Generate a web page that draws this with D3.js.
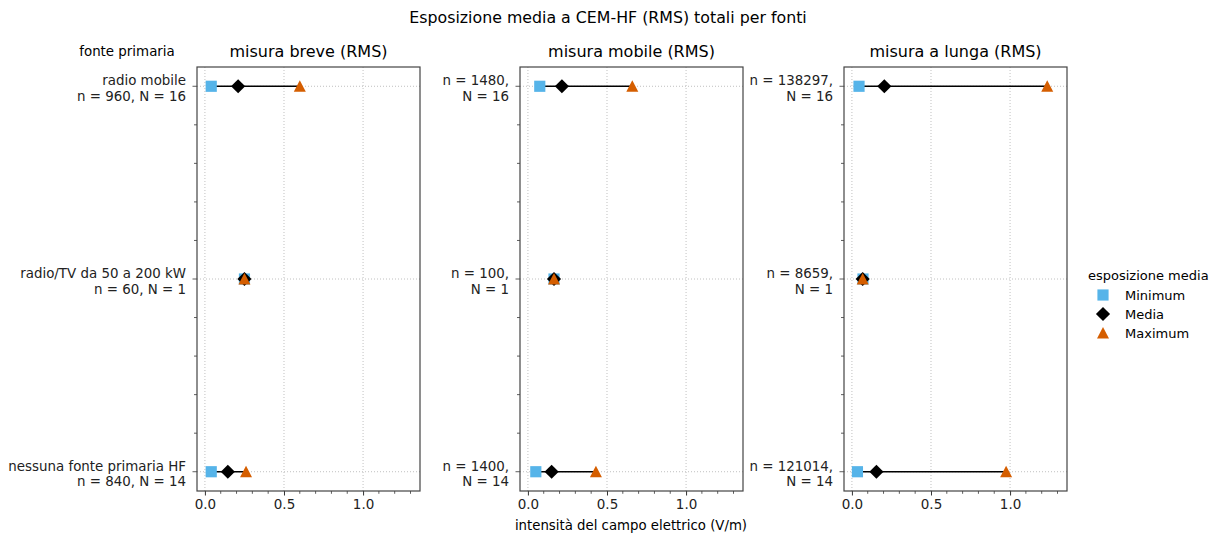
<!DOCTYPE html>
<html>
<head>
<meta charset="utf-8">
<script src="https://cdn.jsdelivr.net/npm/d3@7"></script>
<style>
  body { margin: 0; background: #fff; }
  svg { font-family: "DejaVu Sans", sans-serif; }
</style>
</head>
<body>
<svg id="chart"></svg>
<script>
// data
var panels = ["misura breve (RMS)", "misura mobile (RMS)", "misura a lunga (RMS)"];
var sources = ["radio mobile", "radio/TV da 50 a 200 kW", "nessuna fonte primaria HF"];
var countLabels = [
    ["n = 960, N = 16", "n = 60, N = 1", "n = 840, N = 14"],
    ["n = 1480,|N = 16", "n = 100,|N = 1", "n = 1400,|N = 14"],
    ["n = 138297,|N = 16", "n = 8659,|N = 1", "n = 121014,|N = 14"]
];
var minimum = [
    [0.04, 0.25, 0.04],
    [0.075, 0.165, 0.05],
    [0.045, 0.07, 0.035]
];
var media = [
    [0.21, 0.25, 0.145],
    [0.215, 0.165, 0.15],
    [0.205, 0.068, 0.155]
];
var maximum = [
    [0.60, 0.25, 0.26],
    [0.66, 0.165, 0.43],
    [1.235, 0.068, 0.975]
];
var xTicks = [0, 0.5, 1.0];
var legendLabels = ["Minimum", "Media", "Maximum"];
var colors = { min: "#56B4E9", mean: "#000000", max: "#D55E00" };

var WIDTH = 1217, HEIGHT = 535;
var svg = d3.select("#chart").attr("width", WIDTH).attr("height", HEIGHT);

var panelLeft = [197, 520, 844];
var panelW = 223, plotTop = 67, plotBottom = 491;

var y = d3.scaleLinear().domain([-0.1, 2.1]).range([plotTop, plotBottom]);

svg.append("text")
    .attr("x", 608).attr("y", 23)
    .attr("text-anchor", "middle")
    .attr("font-size", 15.8)
    .text("Esposizione media a CEM-HF (RMS) totali per fonti");

svg.append("text")
    .attr("x", 127).attr("y", 56)
    .attr("text-anchor", "middle")
    .attr("font-size", 13.4)
    .text("fonte primaria");

var sq = d3.symbol().type(d3.symbolSquare).size(125);
var dia = d3.symbol().type(d3.symbolSquare).size(100);
// matplotlib-like triangle: as wide as it is tall, centred on its box
var tri = "M0,-6L6,5.5L-6,5.5Z";

panels.forEach(function (title, p) {
    var x = d3.scaleLinear().domain([-0.05, 1.36]).range([panelLeft[p], panelLeft[p] + panelW]);
    var g = svg.append("g");

    // grid
    g.selectAll(".vg").data(xTicks).enter().append("line")
        .attr("x1", d => x(d)).attr("x2", d => x(d))
        .attr("y1", plotTop).attr("y2", plotBottom)
        .attr("stroke", "#b0b0b0").attr("stroke-width", 0.8)
        .attr("stroke-dasharray", "1,2");
    g.selectAll(".hg").data(sources).enter().append("line")
        .attr("x1", panelLeft[p]).attr("x2", panelLeft[p] + panelW)
        .attr("y1", (d, i) => y(i)).attr("y2", (d, i) => y(i))
        .attr("stroke", "#b0b0b0").attr("stroke-width", 0.8)
        .attr("stroke-dasharray", "1,2");

    // x axis
    var xAxis = d3.axisBottom(x).tickValues(xTicks).tickFormat(d3.format(".1f")).tickSize(4.5).tickPadding(4);
    var xa = g.append("g").attr("transform", "translate(0," + plotBottom + ")").call(xAxis);
    xa.select(".domain").remove();
    xa.selectAll("text").attr("font-size", 13.5).attr("fill", "#222").attr("font-family", "DejaVu Sans");
    xa.selectAll("line").attr("stroke", "#333");
    var minorX = d3.range(0, 14).map(d => d / 10).filter(d => Math.round(d * 10) % 5 != 0);
    g.selectAll(".mx").data(minorX).enter().append("line")
        .attr("x1", d => x(d)).attr("x2", d => x(d))
        .attr("y1", plotBottom).attr("y2", plotBottom + 2.8)
        .attr("stroke", "#333").attr("stroke-width", 0.8);

    // y ticks
    var minorY = d3.range(0, 11).map(d => d / 5).filter(d => Math.round(d * 5) % 5 != 0);
    g.selectAll(".my").data(minorY).enter().append("line")
        .attr("x1", panelLeft[p] - 3).attr("x2", panelLeft[p])
        .attr("y1", d => y(d)).attr("y2", d => y(d))
        .attr("stroke", "#333").attr("stroke-width", 0.8);
    sources.forEach(function (s, i) {
        g.append("line")
            .attr("x1", panelLeft[p] - 4.5).attr("x2", panelLeft[p])
            .attr("y1", y(i)).attr("y2", y(i))
            .attr("stroke", "#333").attr("stroke-width", 0.8);
        var lines = p == 0 ? [s, countLabels[p][i]] : countLabels[p][i].split("|");
        var t = g.append("text")
            .attr("text-anchor", "end")
            .attr("font-size", 13.4)
            .attr("fill", "#222");
        lines.forEach(function (l, k) {
            t.append("tspan")
                .attr("x", panelLeft[p] - 11)
                .attr("y", y(i) - 1 + k * 15.5)
                .text(l);
        });
    });

    // frame
    g.append("rect")
        .attr("x", panelLeft[p]).attr("y", plotTop)
        .attr("width", panelW).attr("height", plotBottom - plotTop)
        .attr("fill", "none").attr("stroke", "#444").attr("stroke-width", 1.2);

    g.append("text")
        .attr("x", panelLeft[p] + panelW / 2).attr("y", 57)
        .attr("text-anchor", "middle")
        .attr("font-size", 16)
        .text(title);

    // range lines and markers
    sources.forEach(function (s, i) {
        g.append("line")
            .attr("x1", x(minimum[p][i])).attr("x2", x(maximum[p][i]))
            .attr("y1", y(i)).attr("y2", y(i))
            .attr("stroke", "#000").attr("stroke-width", 1.5);
        g.append("path").attr("d", sq)
            .attr("transform", "translate(" + x(minimum[p][i]) + "," + y(i) + ")")
            .attr("fill", colors.min);
        g.append("path").attr("d", dia)
            .attr("transform", "translate(" + x(media[p][i]) + "," + y(i) + ") rotate(45)")
            .attr("fill", colors.mean);
        g.append("path").attr("d", tri)
            .attr("transform", "translate(" + x(maximum[p][i]) + "," + y(i) + ")")
            .attr("fill", colors.max);
    });
});

svg.append("text")
    .attr("x", 631).attr("y", 530)
    .attr("text-anchor", "middle")
    .attr("font-size", 13.3)
    .text("intensità del campo elettrico (V/m)");

// legend
var leg = svg.append("g");
leg.append("text")
    .attr("x", 1088).attr("y", 280)
    .attr("font-size", 13)
    .text("esposizione media");
var legSyms = [
    { d: sq, c: colors.min, r: 0 },
    { d: dia, c: colors.mean, r: 45 },
    { d: tri, c: colors.max, r: 0 }
];
legendLabels.forEach(function (l, i) {
    var ly = 295 + i * 19;
    leg.append("path").attr("d", legSyms[i].d)
        .attr("transform", "translate(1103," + ly + ") rotate(" + legSyms[i].r + ")")
        .attr("fill", legSyms[i].c);
    leg.append("text")
        .attr("x", 1125).attr("y", ly + 4.5)
        .attr("font-size", 13)
        .text(l);
});
</script>
</body>
</html>
